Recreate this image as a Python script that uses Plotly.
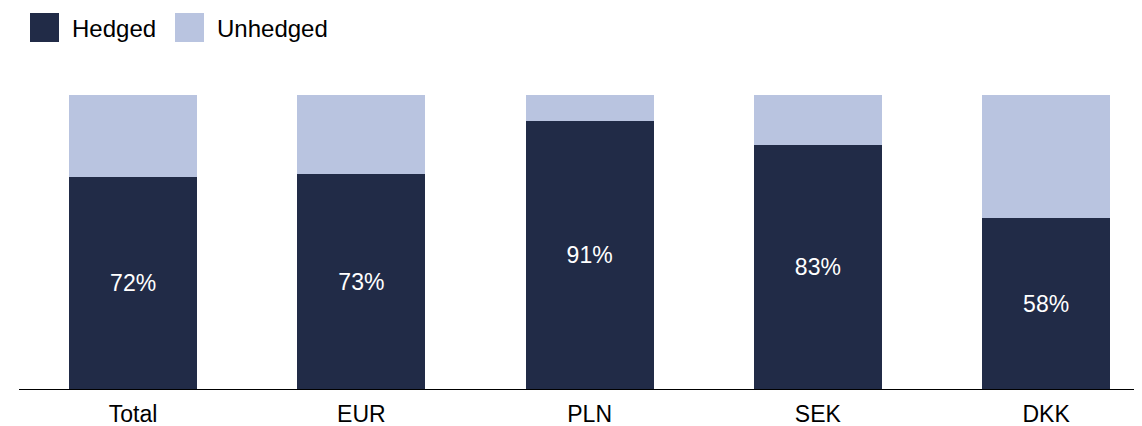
import plotly.graph_objects as go

# dados
moedas = ["Total", "EUR", "PLN", "SEK", "DKK"]
hedged = [72, 73, 91, 83, 58]
unhedged = [100 - v for v in hedged]

cor_hedged = "#212b47"
cor_unhedged = "#b9c4e0"
fonte = "Arial, Liberation Sans, sans-serif"

fig = go.Figure()

fig.add_trace(go.Bar(
    x=moedas, y=hedged, name="Hedged",
    marker=dict(color=cor_hedged, line=dict(width=0)),
    texttemplate="%{y}%", textposition="inside", insidetextanchor="middle",
    textfont=dict(color="white", size=23, family=fonte),
    showlegend=False,
))
fig.add_trace(go.Bar(
    x=moedas, y=unhedged, name="Unhedged",
    marker=dict(color=cor_unhedged, line=dict(width=0)),
    showlegend=False,
))

# legenda feita a mao (quadrados grandes)
legenda = [("Hedged", cor_hedged, 11, 51), ("Unhedged", cor_unhedged, 156, 196)]
for nome, cor, x_quad, x_txt in legenda:
    fig.add_shape(
        type="rect", xref="paper", yref="paper",
        xsizemode="pixel", ysizemode="pixel",
        xanchor=0, yanchor=1,
        x0=x_quad, x1=x_quad + 29, y0=53, y1=82,
        fillcolor=cor, line=dict(width=0),
    )
    fig.add_annotation(
        text=nome, xref="paper", yref="paper", x=0, y=1,
        xanchor="left", yanchor="middle", xshift=x_txt, yshift=67,
        showarrow=False, font=dict(size=24, color="black", family=fonte),
    )

# a pagina tem margem de 8px no body, por isso 1134x418
fig.update_layout(
    barmode="stack",
    bargap=0.44,
    width=1134, height=418,
    margin=dict(l=11, r=0, t=87, b=37),
    plot_bgcolor="white", paper_bgcolor="white",
    font=dict(family=fonte, color="black"),
    uniformtext=dict(minsize=22, mode="show"),
)
fig.update_xaxes(
    type="category", range=[-0.5, 4.42],
    showline=True, linecolor="black", linewidth=1,
    showgrid=False, ticks="", ticklabelstandoff=4,
    tickfont=dict(size=23, color="black"),
)
fig.update_yaxes(range=[0, 100], visible=False)

fig.write_html("out.html")
